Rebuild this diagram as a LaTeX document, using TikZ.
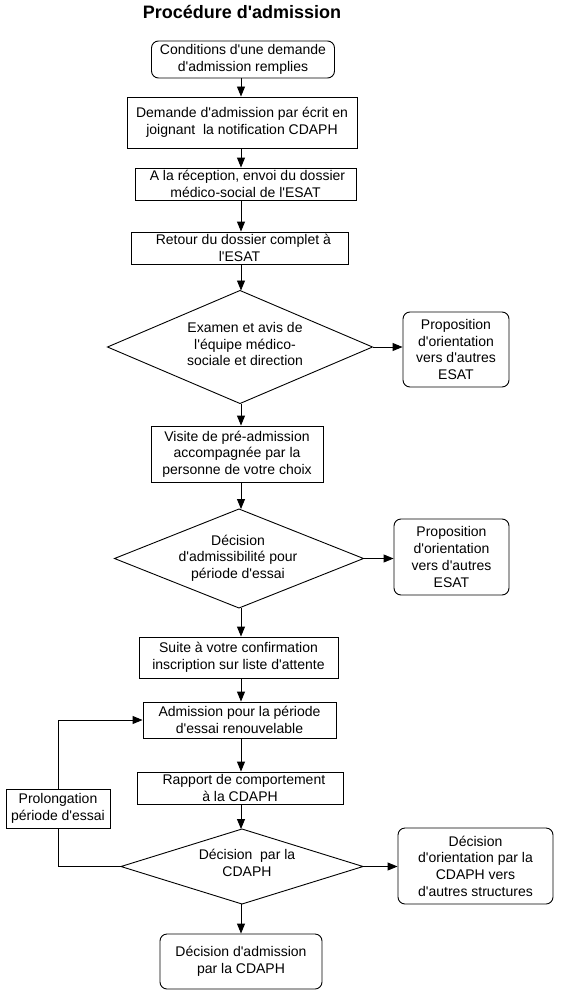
\documentclass[tikz,border=0pt]{standalone}
\usepackage{fontspec}
\setmainfont{Liberation Sans}[Ligatures=TeXOff]
\usetikzlibrary{arrows.meta,shapes.geometric}
\begin{document}
\begin{tikzpicture}[x=1pt,y=-1pt,
  txt/.style={font=\fontsize{14}{16.7}\selectfont},
  box/.style={draw, line width=0.9pt, inner sep=0pt, align=center, txt},
  rbox/.style={box, rounded corners=7pt},
  dia/.style={draw, line width=0.9pt, shape=diamond, inner sep=0pt, outer sep=0pt},
  dtxt/.style={inner sep=0pt, align=center, txt},
  conn/.style={line width=0.9pt},
  arr/.style={conn, -{Triangle[length=10pt,width=8pt]}}]
\useasboundingbox (0,0) rectangle (563,1006);
\node[anchor=base, font=\bfseries\fontsize{18}{21}\selectfont] (title) at (242,18.3) {Procédure d'admission};
\coordinate (ax) at (241,0);

\node[rbox, minimum width=183pt, minimum height=37pt] (b1) at (243,59.5) {Conditions d'une demande\\d'admission remplies};
\node[box, minimum width=230pt, minimum height=51pt] (b2) at (242,122.5) {Demande d'admission par écrit en\\joignant\ \ la notification CDAPH};
\node[box, minimum width=221pt, minimum height=32pt] (b3) at (245.5,184) {\ A la réception, envoi du dossier\\médico-social de l'ESAT};
\node[box, minimum width=217pt, minimum height=32pt] (b4) at (239.5,248) {\ \ Retour du dossier complet à\\l'ESAT};
\node[dia, minimum width=265pt, minimum height=113pt] (d1) at (240,347) {};
\node[dtxt] (d1t) at (245,344) {Examen et avis de\\l'équipe médico-\\sociale et direction};
\node[rbox, minimum width=106pt, minimum height=75pt] (s1) at (456,349.5) {Proposition\\d'orientation\\vers d'autres\\ESAT};
\node[box, minimum width=172pt, minimum height=56pt] (b5) at (237,454) {Visite de pré-admission\\accompagnée par la\\personne de votre choix};
\node[dia, minimum width=249pt, minimum height=99pt] (d2) at (239,558.5) {};
\node[dtxt] (d2t) at (238,558) {Décision\\d'admissibilité pour\\période d'essai};
\node[rbox, minimum width=115pt, minimum height=76pt] (s2) at (451.5,557) {Proposition\\d'orientation\\vers d'autres\\ESAT};
\node[box, minimum width=199pt, minimum height=41pt] (b6) at (238.5,657.5) {Suite à votre confirmation\\inscription sur liste d'attente};
\node[box, minimum width=193pt, minimum height=36pt] (b7) at (239.5,720) {Admission pour la période\\d'essai renouvelable};
\node[box, minimum width=206pt, minimum height=32pt] (b8) at (240,788) {\ \ Rapport de comportement\\à la CDAPH};
\node[box, minimum width=104pt, minimum height=39pt] (pr) at (58,808.5) {Prolongation\\période d'essai};
\node[dia, minimum width=242pt, minimum height=75pt] (d3) at (242,866.5) {};
\node[dtxt] (d3t) at (247,863) {Décision\ \ par la\\CDAPH};
\node[rbox, minimum width=155pt, minimum height=76pt] (s3) at (475.5,866) {Décision\\d'orientation par la\\CDAPH\ vers\\d'autres structures};
\node[rbox, minimum width=162pt, minimum height=55pt] (fin) at (241,961.5) {Décision d'admission\\par la CDAPH};

\draw[arr] (b1.south -| ax) -- (b2.north -| ax);
\draw[arr] (b2.south -| ax) -- (b3.north -| ax);
\draw[arr] (b3.south -| ax) -- (b4.north -| ax);
\draw[arr] (b4.south -| ax) -- (d1.north -| ax);
\draw[arr] (d1.south -| ax) -- (b5.north -| ax);
\draw[arr] (b5.south -| ax) -- (d2.north -| ax);
\draw[arr] (d2.south -| ax) -- (b6.north -| ax);
\draw[arr] (b6.south -| ax) -- (b7.north -| ax);
\draw[arr] (b7.south -| ax) -- (b8.north -| ax);
\draw[arr] (b8.south -| ax) -- (d3.north -| ax);
\draw[arr] (d3.south -| ax) -- (fin.north -| ax);
\draw[arr] (d1.east) -- (d1.east -| s1.west);
\draw[arr] (d2.east) -- (d2.east -| s2.west);
\draw[arr] (d3.east) -- (d3.east -| s3.west);
\draw[arr] (pr.north) |- (b7.west);
\draw[conn] (pr.south) |- (d3.west);
\end{tikzpicture}
\end{document}
